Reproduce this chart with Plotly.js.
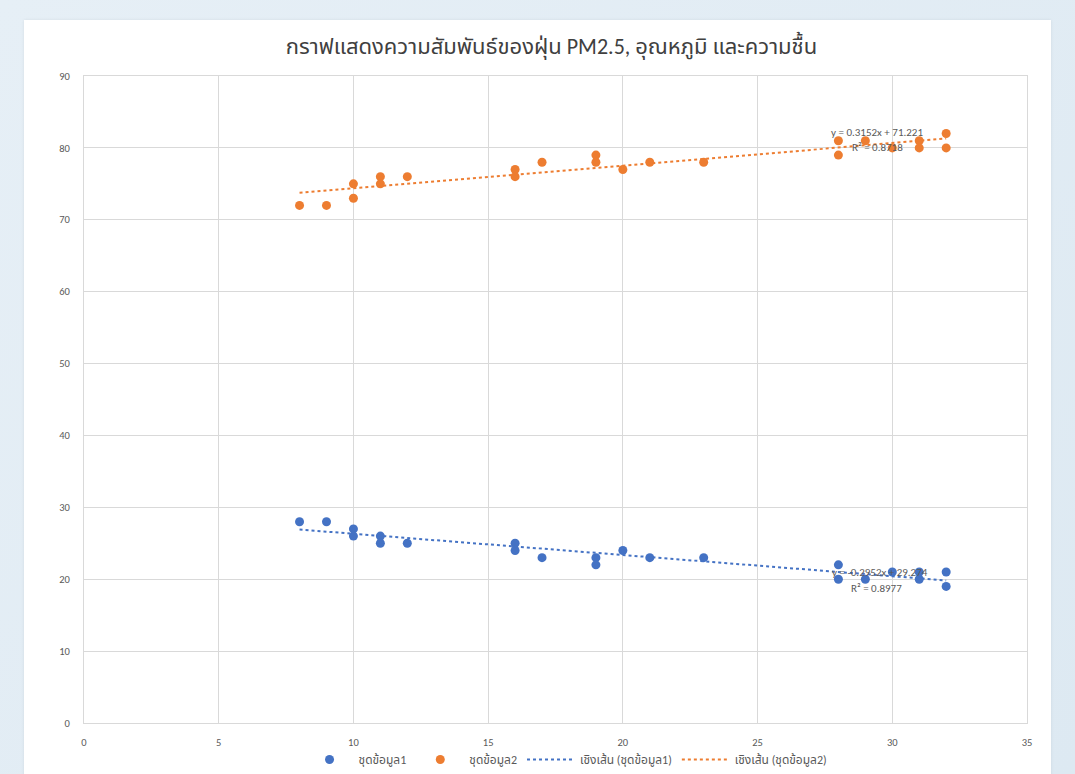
<!DOCTYPE html>
<html>
<head>
<meta charset="utf-8">
<script src="https://cdn.plot.ly/plotly-3.0.1.min.js"></script>
<style>
  html, body { margin:0; padding:0; width:1075px; height:774px; overflow:hidden;
    background: linear-gradient(135deg, #e6eff6 0%, #dde9f2 100%); }
  #card { position:absolute; left:24px; top:20px; width:1027px; height:770px; background:#ffffff;
    box-shadow: 0 0 3px rgba(0,0,0,0.08); }
  #chart { position:absolute; left:0; top:0; width:1075px; height:774px; }
</style>
</head>
<body>
<div id="card"></div>
<div id="chart"></div>
<script>
// Data
const xValues = [8, 9, 10, 10, 11, 11, 12, 16, 16, 17, 19, 19, 20, 21, 23, 28, 28, 29, 30, 31, 31, 32, 32];
const series1 = [28, 28, 27, 26, 26, 25, 25, 25, 24, 23, 23, 22, 24, 23, 23, 22, 20, 20, 21, 21, 20, 21, 19];
const series2 = [72, 72, 75, 73, 76, 75, 76, 77, 76, 78, 79, 78, 77, 78, 78, 81, 79, 81, 80, 81, 80, 82, 80];
const seriesNames = ['ชุดข้อมูล1', 'ชุดข้อมูล2'];
const trendNames = ['เชิงเส้น (ชุดข้อมูล1)', 'เชิงเส้น (ชุดข้อมูล2)'];
const trendSlope = [-0.2952, 0.3152];
const trendIntercept = [29.274, 71.221];
const trendR2 = [0.8977, 0.8718];
const titleText = 'กราฟแสดงความสัมพันธ์ของฝุ่น PM2.5, อุณหภูมิ และความชื้น';

const colors = ['#4472c4', '#ed7d31'];
const FONT = 'Calibri, Carlito, "Noto Sans Thai", "Noto Sans", "Liberation Sans", sans-serif';

const xMin = Math.min(...xValues), xMax = Math.max(...xValues);
function trendLine(i) {
  return [xMin, xMax].map(x => trendSlope[i] * x + trendIntercept[i]);
}
function fmtEq(i) {
  const s = trendSlope[i];
  return 'y = ' + (s < 0 ? '-' : '') + Math.abs(s) + 'x + ' + trendIntercept[i];
}

const traces = [
  { x: xValues, y: series1, type: 'scatter', mode: 'markers', name: seriesNames[0],
    marker: { color: colors[0], size: 9 } },
  { x: xValues, y: series2, type: 'scatter', mode: 'markers', name: seriesNames[1],
    marker: { color: colors[1], size: 9 } },
  { x: [xMin, xMax], y: trendLine(0), type: 'scatter', mode: 'lines', name: trendNames[0],
    line: { color: colors[0], width: 2, dash: 'dot' } },
  { x: [xMin, xMax], y: trendLine(1), type: 'scatter', mode: 'lines', name: trendNames[1],
    line: { color: colors[1], width: 2, dash: 'dot' } }
];

const annFont = { family: FONT, size: 11, color: '#595959' };
const layout = {
  width: 1075, height: 774,
  paper_bgcolor: 'rgba(0,0,0,0)', plot_bgcolor: 'rgba(0,0,0,0)',
  margin: { l: 84, r: 48, t: 76, b: 51, pad: 0, autoexpand: false },
  font: { family: FONT, color: '#595959', size: 10 },
  title: { text: titleText, font: { family: FONT, size: 22, color: '#404040' },
           x: 0.513, xref: 'container', y: 0.94, yref: 'container', yanchor: 'middle' },
  xaxis: { range: [0, 35], dtick: 5, tick0: 0, showgrid: true, gridcolor: '#d9d9d9', gridwidth: 1,
           zeroline: false, showline: true, linecolor: '#d9d9d9', linewidth: 1, mirror: true,
           ticks: '', ticklabelstandoff: 9, tickfont: { family: FONT, size: 10.5, color: '#595959' } },
  yaxis: { range: [0, 90], dtick: 10, tick0: 0, showgrid: true, gridcolor: '#d9d9d9', gridwidth: 1,
           zeroline: false, showline: true, linecolor: '#d9d9d9', linewidth: 1, mirror: true,
           ticks: '', ticklabelstandoff: 11, tickfont: { family: FONT, size: 10.5, color: '#595959' } },
  showlegend: true,
  legend: { orientation: 'h', x: 0.527, xanchor: 'center', xref: 'container',
            y: -0.012, yanchor: 'bottom', yref: 'container',
            font: { family: FONT, size: 12, color: '#595959' }, bgcolor: 'rgba(0,0,0,0)',
            itemwidth: 48, tracegroupgap: 0 },
  annotations: [
    { x: 29.45, y: 82.2, xref: 'x', yref: 'y', text: fmtEq(1), showarrow: false, font: annFont },
    { x: 29.45, y: 80.0, xref: 'x', yref: 'y', text: 'R² = ' + trendR2[1], showarrow: false, font: annFont },
    { x: 29.55, y: 20.9, xref: 'x', yref: 'y', text: fmtEq(0), showarrow: false, font: annFont },
    { x: 29.4, y: 18.65, xref: 'x', yref: 'y', text: 'R² = ' + trendR2[0], showarrow: false, font: annFont }
  ]
};

Plotly.newPlot('chart', traces, layout, { displayModeBar: false, staticPlot: true });
</script>
</body>
</html>
